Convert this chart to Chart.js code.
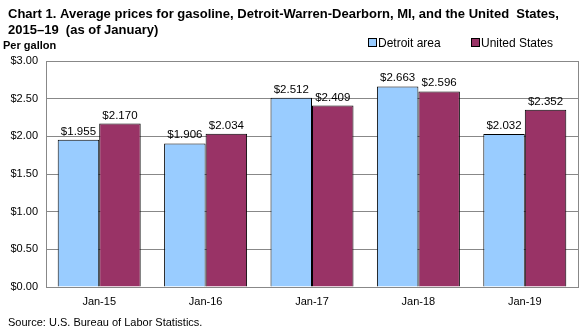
<!DOCTYPE html>
<html>
<head>
<meta charset="utf-8">
<script src="https://cdn.jsdelivr.net/npm/chart.js@4"></script>
<style>
  html, body { margin: 0; padding: 0; background: #fff; }
  canvas { display: block; }
</style>
</head>
<body>
<canvas id="chart" width="587" height="334"></canvas>
<script>
const categories = ["Jan-15", "Jan-16", "Jan-17", "Jan-18", "Jan-19"];
const detroitPrices = [1.955, 1.906, 2.512, 2.663, 2.032];
const usPrices = [2.170, 2.034, 2.409, 2.596, 2.352];
const seriesNames = ["Detroit area", "United States"];
const seriesColors = ["#99ccff", "#993366"];

const FONT = "'Liberation Sans', Arial, sans-serif";

// titles, legend, source, value labels and plot frame
const decorations = {
  id: 'decorations',
  afterDraw(chart) {
    const ctx = chart.ctx;
    const area = chart.chartArea;
    ctx.save();

    ctx.strokeStyle = '#888';
    ctx.lineWidth = 1;
    ctx.strokeRect(Math.round(area.left) + 0.5, Math.round(area.top) + 0.5,
      Math.round(area.right - area.left), Math.round(area.bottom - area.top));

    ctx.fillStyle = '#000';
    ctx.textBaseline = 'alphabetic';
    ctx.textAlign = 'left';
    ctx.font = 'bold 13px ' + FONT;
    ctx.fillText('Chart 1. Average prices for gasoline, Detroit-Warren-Dearborn, MI, and the United  States,', 8, 18);
    ctx.fillText('2015\u201319  (as of January)', 8, 34);
    ctx.font = 'bold 11px ' + FONT;
    ctx.fillText('Per gallon', 3, 49);

    // legend
    ctx.font = '12px ' + FONT;
    const legendX = [368, 471];
    seriesNames.forEach((name, i) => {
      const lx = legendX[i];
      ctx.fillStyle = seriesColors[i];
      ctx.fillRect(lx, 38, 8, 8);
      ctx.strokeStyle = '#000';
      ctx.strokeRect(lx + 0.5, 38.5, 8, 8);
      ctx.fillStyle = '#000';
      ctx.fillText(name, lx + 10, 47);
    });

    ctx.font = '11px ' + FONT;
    ctx.fillText('Source: U.S. Bureau of Labor Statistics.', 8, 326);

    // value labels
    ctx.textAlign = 'center';
    ctx.font = '11.5px ' + FONT;
    chart.data.datasets.forEach((ds, di) => {
      chart.getDatasetMeta(di).data.forEach((bar, i) => {
        ctx.fillText('$' + ds.data[i].toFixed(3), bar.x, bar.y - 5);
      });
    });
    ctx.restore();
  }
};

new Chart(document.getElementById('chart'), {
  type: 'bar',
  data: {
    labels: categories,
    datasets: [
      { label: seriesNames[0], data: detroitPrices, backgroundColor: seriesColors[0], borderColor: '#000', borderWidth: 1 },
      { label: seriesNames[1], data: usPrices, backgroundColor: seriesColors[1], borderColor: '#000', borderWidth: 1 }
    ]
  },
  options: {
    responsive: false,
    animation: false,
    layout: { padding: { left: 0, top: 61, right: 9, bottom: 22 } },
    datasets: { bar: { categoryPercentage: 0.78, barPercentage: 1 } },
    plugins: { legend: { display: false }, tooltip: { enabled: false } },
    scales: {
      x: {
        grid: { display: false },
        border: { display: false },
        ticks: { color: '#000', font: { family: FONT, size: 11 }, padding: 0 },
        afterFit(scale) { scale.height = 25; }
      },
      y: {
        min: 0, max: 3,
        grid: { color: '#888', drawTicks: false },
        border: { display: false },
        ticks: {
          stepSize: 0.5, color: '#000', padding: 8,
          font: { family: FONT, size: 11 },
          callback: v => '$' + v.toFixed(2)
        },
        afterFit(scale) { scale.width = 46; }
      }
    }
  },
  plugins: [decorations]
});
</script>
</body>
</html>
